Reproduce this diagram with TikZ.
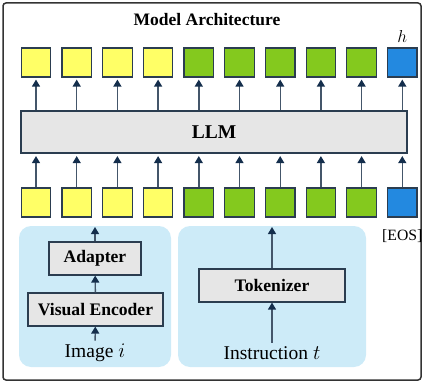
\documentclass[tikz,border=0pt]{standalone}
\usepackage{fontspec}
\setmainfont{Liberation Serif}
\usepackage{xcolor}
\usetikzlibrary{arrows.meta,positioning}

\definecolor{tokyellow}{HTML}{FFFF66}
\definecolor{tokgreen}{HTML}{84C91E}
\definecolor{tokblue}{HTML}{2389E0}
\definecolor{tokedge}{HTML}{2B3D50}
\definecolor{panelfill}{HTML}{CDEBF8}
\definecolor{boxfill}{HTML}{E6E6E6}
\definecolor{shaft}{HTML}{44566A}
\definecolor{tipnavy}{HTML}{142E4C}

\tikzset{
  tok/.style={draw=tokedge, line width=1.2pt, inner sep=0pt, minimum width=29.5pt, minimum height=29pt},
  modbox/.style={draw=tokedge, line width=1.2pt, fill=boxfill, inner sep=0pt, font=\fontsize{17.6}{20}\selectfont\bfseries},
  panel/.style={fill=panelfill, rounded corners=12pt, inner sep=0pt},
  flow/.style={draw=shaft, line width=1.4pt, -{Triangle[width=8pt,length=7pt,color=tipnavy]}}
}

\begin{document}
\begin{tikzpicture}[x=1pt, y=1pt]
\useasboundingbox (0,0) rectangle (423,381);
\draw[line width=1.5pt, draw=black!80, rounded corners=3pt] (3,1) rectangle (421,378);

\node[font=\fontsize{17.5}{20}\selectfont\bfseries] (title) at (207,361) {Model Architecture};

% output tokens
\node[tok, fill=tokyellow] (t1) at (36,318.5) {};
\node[tok, fill=tokyellow, right=10pt of t1] (t2) {};
\node[tok, fill=tokyellow, right=10pt of t2] (t3) {};
\node[tok, fill=tokyellow, right=10pt of t3] (t4) {};
\node[tok, fill=tokgreen, right=10pt of t4] (t5) {};
\node[tok, fill=tokgreen, right=10pt of t5] (t6) {};
\node[tok, fill=tokgreen, right=10pt of t6] (t7) {};
\node[tok, fill=tokgreen, right=10pt of t7] (t8) {};
\node[tok, fill=tokgreen, right=10pt of t8] (t9) {};
\node[tok, fill=tokblue, right=10pt of t9] (t10) {};
\node[above=1pt of t10, font=\fontsize{19}{20}\selectfont] (hlab) {$h$};

\node[modbox, minimum width=386pt, minimum height=42pt, font=\fontsize{19.5}{22}\selectfont\bfseries] (llm) at (214,249) {LLM};

% input tokens
\node[tok, fill=tokyellow] (b1) at (36,178.5) {};
\node[tok, fill=tokyellow, right=10pt of b1] (b2) {};
\node[tok, fill=tokyellow, right=10pt of b2] (b3) {};
\node[tok, fill=tokyellow, right=10pt of b3] (b4) {};
\node[tok, fill=tokgreen, right=10pt of b4] (b5) {};
\node[tok, fill=tokgreen, right=10pt of b5] (b6) {};
\node[tok, fill=tokgreen, right=10pt of b6] (b7) {};
\node[tok, fill=tokgreen, right=10pt of b7] (b8) {};
\node[tok, fill=tokgreen, right=10pt of b8] (b9) {};
\node[tok, fill=tokblue, right=10pt of b9] (b10) {};
\node[below=8pt of b10, font=\fontsize{15.7}{18}\selectfont] (eos) {[EOS]};

\foreach \i in {1,...,10} {
  \draw[flow, shorten >=2pt] (llm.north -| t\i) -- (t\i.south);
  \draw[flow, shorten >=2.5pt] (b\i) -- (llm.south -| b\i);
}

% image branch
\node[panel, minimum width=152pt, minimum height=141pt] (imgpanel) at (95,84.5) {};
\node[modbox, minimum width=135pt, minimum height=33pt] (venc) at (95.5,71.5) {Visual Encoder};
\node[modbox, minimum width=92pt, minimum height=33pt] (adapter) at (95,122.5) {Adapter};
\node[font=\fontsize{19.5}{22}\selectfont] (img) at (95,28) {Image $i$};
\coordinate (imgout) at (95,154);
\draw[flow] (img) -- (venc);
\draw[flow] (venc) -- (adapter);
\draw[flow] (adapter) -- (imgout);

% text branch
\node[panel, minimum width=188pt, minimum height=141pt] (txtpanel) at (272,84.5) {};
\node[modbox, minimum width=146pt, minimum height=33pt] (tokenizer) at (272,95.5) {Tokenizer};
\node[font=\fontsize{19.5}{22}\selectfont] (instr) at (272,28) {Instruction $t$};
\coordinate (txtout) at (272,154);
\draw[flow] (instr) -- (tokenizer);
\draw[flow] (tokenizer) -- (txtout);
\end{tikzpicture}
\end{document}
